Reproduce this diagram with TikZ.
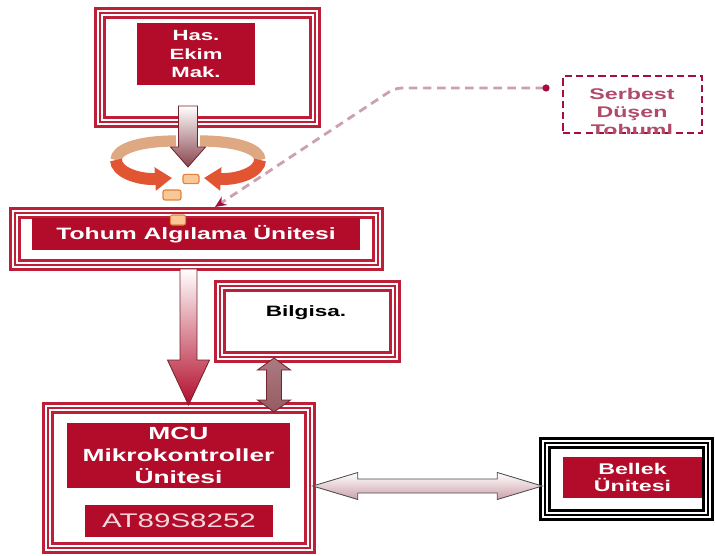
\documentclass[tikz,border=0pt]{standalone}
\usepackage{fontspec}
\newfontfamily\diafont[FakeStretch=1.5]{Liberation Sans}
\usetikzlibrary{fit,calc,arrows.meta}
\definecolor{mred}{RGB}{178,12,42}
\definecolor{fred}{RGB}{190,30,55}
\definecolor{adark}{RGB}{115,35,45}
\definecolor{hgrad}{RGB}{205,160,170}
\definecolor{swtan}{RGB}{222,168,130}
\definecolor{swred}{RGB}{225,85,50}
\definecolor{seedc}{RGB}{250,200,150}
\definecolor{seedd}{RGB}{225,130,60}
\definecolor{dashc}{RGB}{205,160,175}
\definecolor{serbc}{RGB}{165,15,60}
\definecolor{serbt}{RGB}{175,75,105}
\definecolor{atc}{RGB}{245,215,222}
\tikzset{
  boxframe/.style={draw=#1, line width=1pt, inner sep=0pt,
    preaction={draw=#1, line width=8pt},
    preaction={draw=white, line width=4.6pt}},
  boxframe/.default=fred,
  redbox/.style={fill=mred, text=white, inner sep=0pt, align=center},
  serbbox/.style={draw=serbc, line width=1.1pt, dash pattern=on 5pt off 3pt, inner sep=0pt},
  varrow/.style={draw=adark, line width=0.6pt},
  swirltop/.style={draw=swtan, line width=8pt},
  swirlbot/.style={draw=swred, line width=8.5pt, -{Triangle[length=12pt,width=16pt]}},
  seed/.style={draw=seedd, fill=seedc, rounded corners=1.5pt, line width=0.8pt, inner sep=0pt},
  dashline/.style={draw=dashc, line width=2pt, dash pattern=on 6pt off 4pt, rounded corners=5pt,
    {Circle[length=5pt,color=serbc]}-{Stealth[length=8pt,width=7pt,color=serbc]}}
}
\begin{document}
\begin{tikzpicture}[x=0.025cm, y=-0.025cm]
\useasboundingbox (0,0) rectangle (715,556);
% frames
\node[boxframe, fit={(100,13) (315,122)}] (hasf) {};
\node[boxframe, fit={(15,213) (378,265)}] (tohf) {};
\node[boxframe, fit={(220,286) (395,357)}] (bilgf) {};
\node[font=\diafont\bfseries\fontsize{10.7pt}{12pt}\selectfont] (bilgt) at (306,313) {Bilgisa.};
\node[boxframe, fit={(48,408) (310,548)}] (mcuf) {};
\node[boxframe=black, fit={(545,443) (708,515)}] (bellf) {};
% red boxes
\node[redbox, minimum width=2.95cm, minimum height=1.55cm, font=\diafont\bfseries\fontsize{10.5pt}{13.5pt}\selectfont] (hasr) at (196,54) {Has.\\Ekim\\Mak.};
\node[redbox, minimum width=8.2cm, minimum height=0.8cm, font=\diafont\bfseries\fontsize{11.7pt}{14pt}\selectfont] (tohr) at (196,234) {Tohum Algılama Ünitesi};
\node[redbox, minimum width=5.575cm, minimum height=1.625cm, font=\diafont\bfseries\fontsize{12.5pt}{15.6pt}\selectfont] (mcur) at (178.5,455.5) {MCU\\Mikrokontroller\\Ünitesi};
\node[redbox, minimum width=4.7cm, minimum height=0.8cm, text=atc, font=\diafont\fontsize{14pt}{16pt}\selectfont] (atr) at (179,521) {AT89S8252};
\node[redbox, minimum width=3.475cm, minimum height=1.025cm, font=\diafont\bfseries\fontsize{11pt}{11.5pt}\selectfont] (bellr) at (632.5,477.5) {Bellek\\Ünitesi};
% free falling seeds
\node[serbbox, fit={(563,76) (702,133)}] (serb) {};
\begin{scope}
\clip (serb.north west) rectangle (serb.south east);
\node[text=serbt, align=center, font=\diafont\bfseries\fontsize{11pt}{12.8pt}\selectfont] (serbt) at (632,112) {Serbest\\Düşen\\Tohuml};
\end{scope}
% swirl
\draw[swirltop] (176,141) .. controls (136,141) and (116,150) .. (116,160);
\draw[swirlbot] (116,160) .. controls (116,172) and (138,180) .. (172,178);
\draw[swirltop] (200,141) .. controls (240,141) and (260,150) .. (260,160);
\draw[swirlbot] (260,160) .. controls (260,172) and (238,180) .. (204,178);
% arrows
\coordinate (a1s) at (188,106);
\coordinate (a1e) at (188,167);
\draw[varrow, top color=white, bottom color=adark!85] ($(a1s)+(-9.5,0)$) -- ($(a1e)+(-9.5,-20)$) -- ($(a1e)+(-17.5,-20)$) -- (a1e)
  -- ($(a1e)+(17.5,-20)$) -- ($(a1e)+(9.5,-20)$) -- ($(a1s)+(9.5,0)$) -- cycle;
\coordinate (t2s) at (188.5,269);
\coordinate (t2e) at (188.5,405);
\draw[varrow, top color=white, bottom color=mred] ($(t2s)+(-8.5,0)$) -- ($(t2e)+(-8.5,-45)$) -- ($(t2e)+(-21,-45)$) -- (t2e)
  -- ($(t2e)+(21,-45)$) -- ($(t2e)+(8.5,-45)$) -- ($(t2s)+(8.5,0)$) -- cycle;
\coordinate (vt) at (274,358);
\coordinate (vb) at (274,412);
\draw[varrow, top color=adark!60, middle color=white, bottom color=adark!75] (vt) -- ($(vt)+(16.5,12)$) -- ($(vt)+(7.5,12)$)
  -- ($(vb)+(7.5,-12)$) -- ($(vb)+(16.5,-12)$) -- (vb) -- ($(vb)+(-16.5,-12)$) -- ($(vb)+(-7.5,-12)$)
  -- ($(vt)+(-7.5,12)$) -- ($(vt)+(-16.5,12)$) -- cycle;
\coordinate (hl) at ($(mcuf.east)+(2,8)$);
\coordinate (hr) at ($(bellf.west)+(-2,7)$);
\draw[varrow, draw=gray!60!black, top color=white, bottom color=hgrad] (hl) -- ($(hl)+(45,-13.5)$) -- ($(hl)+(45,-7)$)
  -- ($(hr)+(-45,-7)$) -- ($(hr)+(-45,-13.5)$) -- (hr) -- ($(hr)+(-45,13.5)$) -- ($(hr)+(-45,7)$)
  -- ($(hl)+(45,7)$) -- ($(hl)+(45,13.5)$) -- cycle;
% seeds
\node[seed, minimum width=0.4cm, minimum height=0.23cm] (s1) at (191,179) {};
\node[seed, minimum width=0.45cm, minimum height=0.25cm] (s2) at (172,195) {};
\node[seed, minimum width=0.38cm, minimum height=0.25cm] (s3) at (178,220) {};
% dashed connector
\coordinate (sbend) at (395,88);
\coordinate (send) at (215,207);
\draw[dashline, shorten <=9pt] (serb.west |- sbend) -- (sbend) -- (send);
\end{tikzpicture}
\end{document}
